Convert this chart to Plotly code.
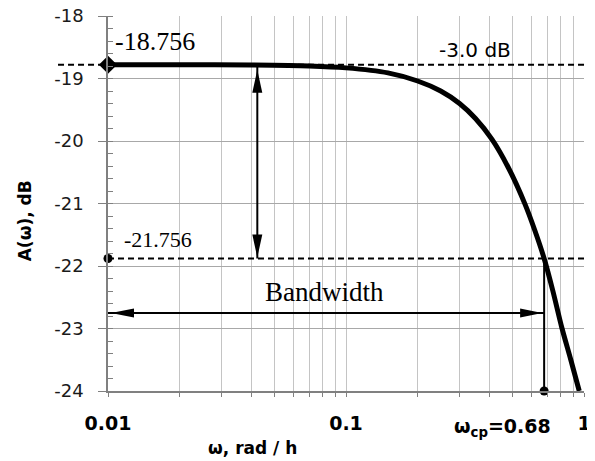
import math
import plotly.graph_objects as go

# ---- data ----
omega = [0.01, 0.02, 0.04, 0.07, 0.1, 0.15, 0.2, 0.25, 0.3, 0.35, 0.41, 0.48,
         0.565, 0.62, 0.68, 0.74, 0.806, 0.88, 0.955]
A_db = [-18.78, -18.78, -18.785, -18.80, -18.83, -18.91, -19.04, -19.2, -19.4,
        -19.64, -19.97, -20.42, -21.01, -21.42, -21.88, -22.4, -22.98, -23.5, -24.0]

w_min = 0.01
w_cp = 0.68
A_max = -18.78          # level of the -18.756 line in the picture
A_cut = -21.88          # level of the -21.756 line in the picture
A_min = -24.0
arrow_w = 0.0424        # position of the vertical double arrow
bw_level = -22.75       # level of the bandwidth arrow

y_ticks = [-24, -23, -22, -21, -20, -19, -18]
y_tick_text = ["-24", "-23", "-22", "-21", "-20", "-19", "-18"]
x_major = [0.01, 0.1, 1]
x_major_text = ["0.01", "0.1", "1"]
x_minor_mult = [2, 3, 4, 5, 6, 7, 8, 9]

label_top = "-18.756"
label_cut = "-21.756"
label_db = "-3.0 dB"
label_bw = "Bandwidth"
label_wcp = "ω<sub>cp</sub>=0.68"
x_title = "ω, rad / h"
y_title = "A(ω), dB"

# tick positions for the log axis (major + minor)
x_tickvals, x_ticktext = [], []
for v, t in zip(x_major, x_major_text):
    x_tickvals.append(v)
    x_ticktext.append(t)
    if v < 1:
        for m in x_minor_mult:
            x_tickvals.append(v * m)
            x_ticktext.append(" ")

fig = go.Figure()

# main curve
fig.add_trace(go.Scatter(x=omega, y=A_db, mode="lines",
                         line=dict(color="black", width=5, shape="spline",
                                   smoothing=0.8),
                         hoverinfo="skip"))
# vertical line at w_cp
fig.add_trace(go.Scatter(x=[w_cp, w_cp], y=[A_min, A_cut], mode="lines",
                         line=dict(color="black", width=2), hoverinfo="skip"))
# arrow shafts
fig.add_trace(go.Scatter(x=[arrow_w, arrow_w], y=[A_max, A_cut], mode="lines",
                         line=dict(color="black", width=2), hoverinfo="skip"))
fig.add_trace(go.Scatter(x=[w_min, w_cp], y=[bw_level, bw_level], mode="lines",
                         line=dict(color="black", width=2), hoverinfo="skip"))
# markers
fig.add_trace(go.Scatter(x=[w_min], y=[A_max], mode="markers", cliponaxis=False,
                         marker=dict(symbol="diamond", size=14, color="black"),
                         hoverinfo="skip"))
fig.add_trace(go.Scatter(x=[w_min, w_cp], y=[A_cut, A_min], mode="markers",
                         cliponaxis=False,
                         marker=dict(symbol="circle", size=9, color="black"),
                         hoverinfo="skip"))

shapes = []
dash = "6px,4px"
shapes.append(dict(type="line", xref="paper", yref="y", x0=-0.105, x1=1.015,
                   y0=A_max, y1=A_max, line=dict(color="black", width=2, dash=dash)))
shapes.append(dict(type="line", xref="paper", yref="y", x0=0.0, x1=1.015,
                   y0=A_cut, y1=A_cut, line=dict(color="black", width=2, dash=dash)))


def head(xa, ya, path):
    return dict(type="path", xref="x", yref="y", xsizemode="pixel",
                ysizemode="pixel", xanchor=xa, yanchor=ya, path=path,
                fillcolor="black", line=dict(width=0))


shapes.append(head(arrow_w, A_max, "M0,-5 L5,-28 L-5,-28 Z"))
shapes.append(head(arrow_w, A_cut, "M0,1 L5,24 L-5,24 Z"))
shapes.append(head(w_min, bw_level, "M3,0 L26,4.5 L26,-4.5 Z"))
shapes.append(head(w_cp, bw_level, "M-2,0 L-24,4.5 L-24,-4.5 Z"))

serif = "Liberation Serif"
sans = "DejaVu Sans"
annotations = [
    dict(text=label_top, xref="paper", yref="paper", x=0.01, y=0.931,
         xanchor="left", yanchor="middle", showarrow=False,
         font=dict(family=serif, size=26, color="black")),
    dict(text=label_cut, xref="paper", yref="paper", x=0.03, y=0.403,
         xanchor="left", yanchor="middle", showarrow=False,
         font=dict(family=serif, size=22, color="black")),
    dict(text=label_db, xref="paper", yref="paper", x=0.771, y=0.909,
         xanchor="center", yanchor="middle", showarrow=False,
         font=dict(family=sans, size=20, color="black")),
    dict(text=label_bw, xref="paper", yref="paper", x=0.454, y=0.264,
         xanchor="center", yanchor="middle", showarrow=False,
         font=dict(family=serif, size=27, color="black")),
    dict(text=label_wcp, xref="paper", yref="paper", x=0.935, y=-0.096,
         xanchor="right", yanchor="middle", showarrow=False,
         font=dict(family=sans, size=19, color="black", weight="bold")),
    dict(text=x_title, xref="paper", yref="paper", x=(252 - 108) / 476, y=-0.152,
         xanchor="center", yanchor="middle", showarrow=False,
         font=dict(family=sans, size=17, color="black", weight="bold")),
    dict(text=y_title, xref="paper", yref="paper", x=-0.174, y=0.453,
         xanchor="center", yanchor="middle", showarrow=False, textangle=-90,
         font=dict(family=sans, size=17, color="black", weight="bold")),
]

# the page body adds an 8 px offset, so the figure is 8 px smaller and margins shifted
fig.update_layout(
    width=587, height=453,
    margin=dict(l=100, r=11, t=8, b=70, autoexpand=False),
    paper_bgcolor="white", plot_bgcolor="white",
    showlegend=False,
    shapes=shapes, annotations=annotations,
    xaxis=dict(type="log", range=[math.log10(0.01), math.log10(1)],
               tickvals=x_tickvals, ticktext=x_ticktext, automargin=False,
               tickangle=0, ticklabeloverflow="allow",
               ticks="outside", ticklen=4, tickcolor="#808080", tickwidth=1,
               showgrid=True, gridcolor="#c4c4c4", gridwidth=1.3,
               showline=True, linecolor="#808080", linewidth=1.5,
               ticklabelstandoff=10,
               tickfont=dict(family=sans, size=19, color="black", weight="bold"),
               zeroline=False),
    yaxis=dict(range=[-24, -18], tickvals=y_ticks, ticktext=y_tick_text,
               automargin=False, ticklabeloverflow="allow",
               ticks="outside", ticklen=8, tickcolor="#808080", tickwidth=1.3,
               showgrid=True, gridcolor="#a8a8a8", gridwidth=1.3,
               showline=True, linecolor="#808080", linewidth=1.5,
               ticklabelstandoff=11,
               minor=dict(dtick=0.2, ticks="inside", ticklen=5,
                          tickcolor="#808080", showgrid=False),
               tickfont=dict(family=sans, size=18, color="#1a1a1a"),
               zeroline=False),
)

fig.write_html("out.html")
